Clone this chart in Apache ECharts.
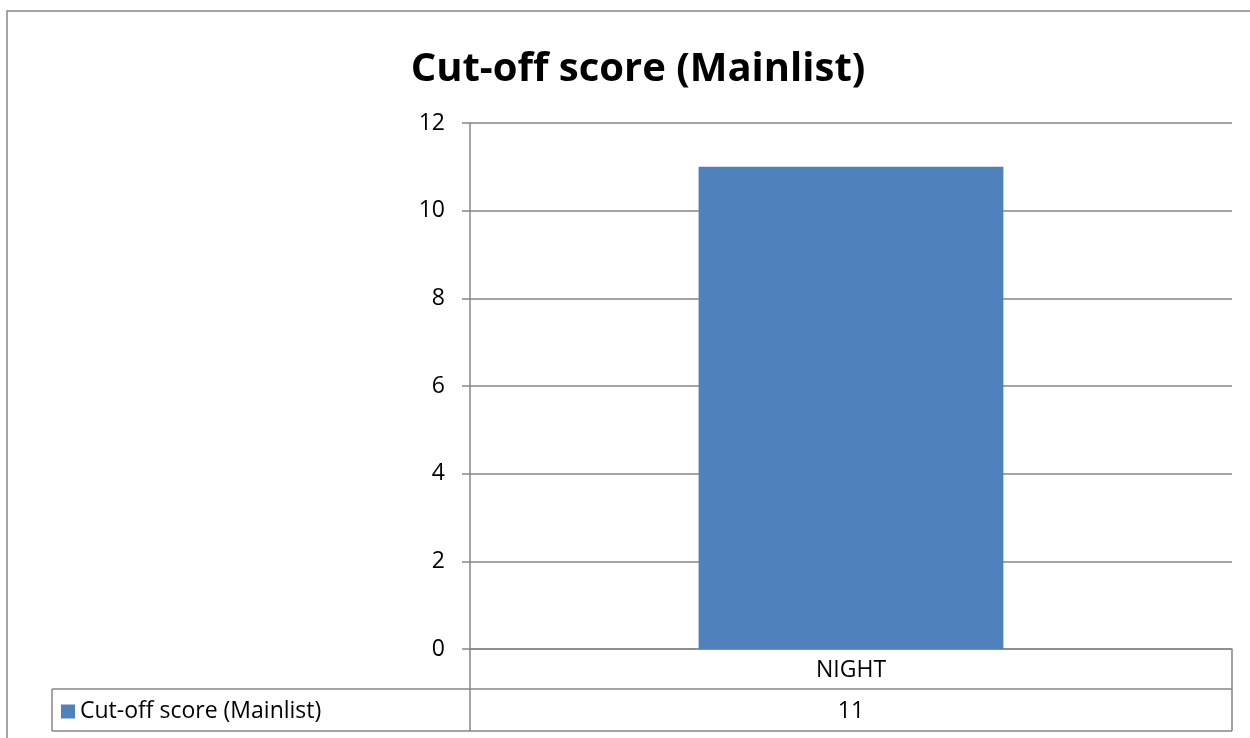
<!DOCTYPE html>
<html>
<head>
<meta charset="utf-8">
<script src="https://cdn.jsdelivr.net/npm/echarts@6/dist/echarts.min.js"></script>
<style>
  html, body { margin: 0; padding: 0; background: #fff; }
  #chart { width: 1250px; height: 738px; }
</style>
</head>
<body>
<div id="chart"></div>
<script>
// data
var categories = ["NIGHT"];
var seriesName = "Cut-off score (Mainlist)";
var scores = [11];
var yTicks = { min: 0, max: 12, interval: 2 };

var FONT = "'Open Sans', sans-serif";
var LINE = "#868686";

// plot box (pixels)
var L = 470, R = 1232, T = 123, B = 649;
var ROW = 40, ROW2 = 82;

var chart = echarts.init(document.getElementById("chart"));
chart.setOption({
  animation: false,
  title: {
    text: seriesName,
    left: 633,
    textAlign: "center",
    top: 45,
    textStyle: { fontFamily: FONT, fontSize: 40, fontWeight: "bold", color: "#000" }
  },
  legend: {
    data: [seriesName],
    left: 56,
    top: 695,
    icon: "rect",
    itemWidth: 14,
    itemHeight: 14,
    itemGap: 6,
    textStyle: { fontFamily: FONT, fontSize: 23, color: "#000" }
  },
  grid: { left: L, right: 1250 - R, top: T, bottom: 738 - B },
  xAxis: [
    {
      type: "category",
      data: categories,
      axisLine: { show: true, lineStyle: { color: LINE, width: 1.5 } },
      axisTick: { show: false },
      axisLabel: { margin: 10, fontFamily: FONT, fontSize: 23, color: "#000" }
    },
    {
      type: "category",
      position: "bottom",
      offset: ROW,
      data: scores.map(String),
      axisLine: { show: false },
      axisTick: { show: false },
      axisLabel: { margin: 11, fontFamily: FONT, fontSize: 23, color: "#000" }
    }
  ],
  yAxis: {
    type: "value",
    min: yTicks.min,
    max: yTicks.max,
    interval: yTicks.interval,
    axisLine: { show: true, lineStyle: { color: LINE, width: 1.5 } },
    axisTick: { show: true, length: 8, lineStyle: { color: LINE, width: 1.5 } },
    axisLabel: { margin: 25, fontFamily: FONT, fontSize: 23, color: "#000" },
    splitLine: { lineStyle: { color: LINE, width: 1.5 } }
  },
  series: [
    {
      name: seriesName,
      type: "bar",
      data: scores,
      barWidth: "40%",
      itemStyle: { color: "#4F81BD" }
    }
  ],
  graphic: [
    // outer chart frame
    { type: "rect", shape: { x: 7, y: 11, width: 1300, height: 800 },
      style: { fill: "none", stroke: LINE, lineWidth: 1.5 }, silent: true },
    // data table
    { type: "line", shape: { x1: 52, y1: B + ROW, x2: R, y2: B + ROW },
      style: { stroke: LINE, lineWidth: 1.5 } },
    { type: "line", shape: { x1: 52, y1: B + ROW2, x2: R, y2: B + ROW2 },
      style: { stroke: LINE, lineWidth: 1.5 } },
    { type: "line", shape: { x1: 52, y1: B + ROW, x2: 52, y2: B + ROW2 },
      style: { stroke: LINE, lineWidth: 1.5 } },
    { type: "line", shape: { x1: L, y1: B, x2: L, y2: B + ROW2 },
      style: { stroke: LINE, lineWidth: 1.5 } },
    { type: "line", shape: { x1: R, y1: B, x2: R, y2: B + ROW2 },
      style: { stroke: LINE, lineWidth: 1.5 } }
  ]
});
</script>
</body>
</html>
